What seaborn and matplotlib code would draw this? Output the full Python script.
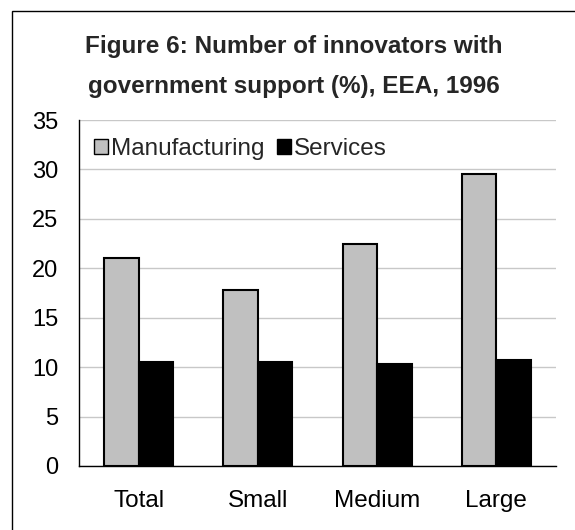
import matplotlib
matplotlib.use("Agg")
import matplotlib.pyplot as plt
import seaborn as sns
import pandas as pd
from matplotlib.patches import Rectangle, Patch

categories = ["Total", "Small", "Medium", "Large"]
manufacturing = [21.0, 17.8, 22.5, 29.5]
services = [10.5, 10.5, 10.3, 10.7]
series_names = ["Manufacturing", "Services"]
title_lines = ["Figure 6: Number of innovators with", "government support (%), EEA, 1996"]

df = pd.DataFrame({
    "category": categories * 2,
    "value": manufacturing + services,
    "series": [series_names[0]] * len(categories) + [series_names[1]] * len(categories),
})

sns.set_style("white")
plt.rcParams['font.family'] = ['Liberation Sans', 'DejaVu Sans']

fig = plt.figure(figsize=(5.75, 5.3), dpi=100)
ax = fig.add_axes([79/575, 1 - 466/530, (556-79)/575, (466-120)/530])

palette = {series_names[0]: "#C0C0C0", series_names[1]: "#000000"}
sns.barplot(data=df, x="category", y="value", hue="series", order=categories,
            hue_order=series_names, palette=palette, width=0.58,
            edgecolor="black", linewidth=1.5, saturation=1, ax=ax, legend=False)

ax.set_ylim(0, 35)
ax.set_xlim(-0.5, 3.5)
ax.set_yticks(range(0, 36, 5))
ax.yaxis.grid(True, color="#C8C8C8", linewidth=1)
ax.set_axisbelow(True)
ax.set_xlabel("")
ax.set_ylabel("")
for s in ["top", "right"]:
    ax.spines[s].set_visible(False)
ax.spines["left"].set_color("black")
ax.spines["bottom"].set_color("black")
ax.spines["left"].set_linewidth(1)
ax.spines["bottom"].set_linewidth(1)

ax.set_xticks(range(len(categories)))
ax.set_xticklabels(categories)
ax.set_xticks([-0.5, 0.5, 1.5, 2.5, 3.5], minor=True)
ax.tick_params(axis="x", which="major", length=0, pad=17, labelsize=17.5)
ax.tick_params(axis="x", which="minor", length=6, direction="out", color="black", width=1)
ax.tick_params(axis="y", length=7, direction="out", color="black", width=1, labelsize=17, pad=8)
ax.tick_params(axis="both", labelcolor="black")

handles = [Patch(facecolor=palette[n], edgecolor="black", linewidth=1, label=n) for n in series_names]
ax.legend(handles=handles, loc="upper left", bbox_to_anchor=(0.0, 0.99), ncol=2,
          frameon=False, fontsize=17.5, handlelength=0.6, handleheight=0.6,
          handletextpad=0.12, columnspacing=0.5, borderaxespad=0.2)

fig.text(294/575, 1 - 46/530, title_lines[0], ha="center", va="center",
         fontsize=17.5, fontweight="bold")
fig.text(294/575, 1 - 86/530, title_lines[1], ha="center", va="center",
         fontsize=17.5, fontweight="bold")

fig.patches.append(Rectangle((12/575, -0.05), 1.2, 1 - 11/530 + 0.05,
                             transform=fig.transFigure, fill=False,
                             edgecolor="black", linewidth=1))

fig.savefig("out.png", dpi=100)
